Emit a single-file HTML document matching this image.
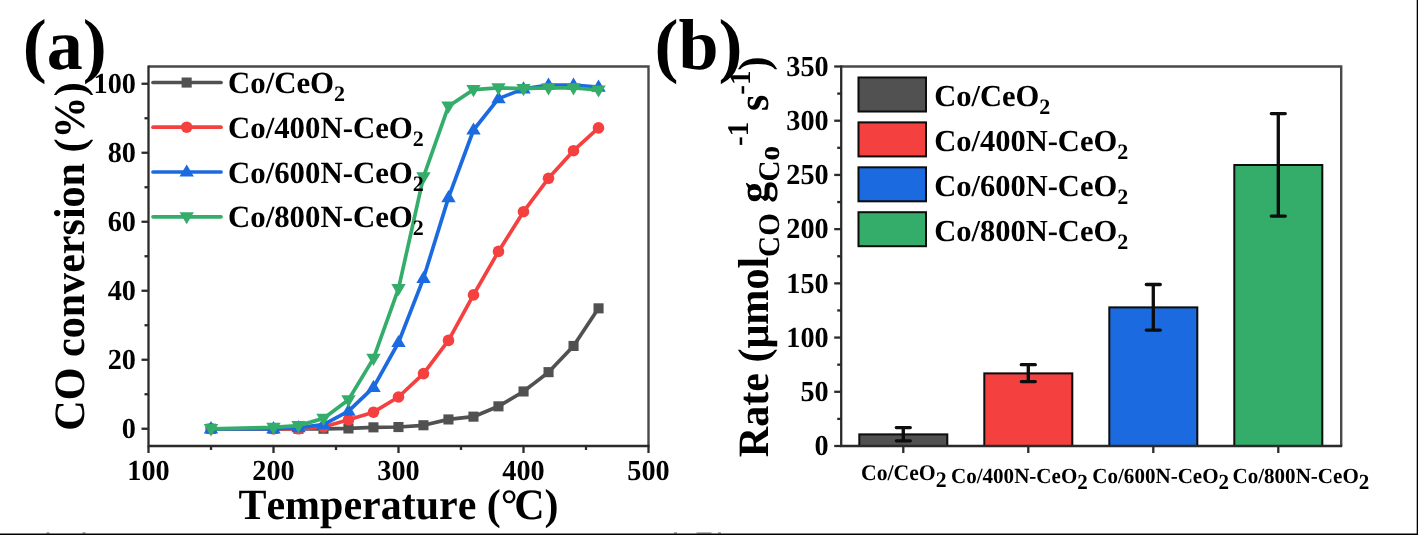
<!DOCTYPE html>
<html><head><meta charset="utf-8"><title>Figure</title>
<style>
html,body{margin:0;padding:0;background:#fff;}
body{width:1418px;height:535px;overflow:hidden;}
svg{display:block;}
text{font-family:"Liberation Serif",serif;font-weight:bold;fill:#000;font-kerning:none;font-variant-ligatures:none;text-rendering:geometricPrecision;}
</style></head><body>
<svg width="1418" height="535" viewBox="0 0 1418 535">
<defs><filter id="soft" x="0" y="0" width="100%" height="100%" filterUnits="userSpaceOnUse"><feGaussianBlur stdDeviation="0.65"/></filter></defs>
<rect x="0" y="0" width="1418" height="535" fill="#fff"/>
<g filter="url(#soft)">

<g id="pa">
<path d="M148.5,66.5H648.5V446.0" fill="none" stroke="#4a4a4a" stroke-width="2.4" stroke-linejoin="miter"/>
<path d="M148.5,65.5V446.0H649.5" fill="none" stroke="#2b2b2b" stroke-width="2.3" stroke-linejoin="miter"/>
<line x1="148.5" y1="446.0" x2="148.5" y2="453.0" stroke="#2b2b2b" stroke-width="2.3"/>
<line x1="211.0" y1="446.0" x2="211.0" y2="450.0" stroke="#2b2b2b" stroke-width="2.3"/>
<line x1="273.5" y1="446.0" x2="273.5" y2="453.0" stroke="#2b2b2b" stroke-width="2.3"/>
<line x1="336.0" y1="446.0" x2="336.0" y2="450.0" stroke="#2b2b2b" stroke-width="2.3"/>
<line x1="398.5" y1="446.0" x2="398.5" y2="453.0" stroke="#2b2b2b" stroke-width="2.3"/>
<line x1="461.0" y1="446.0" x2="461.0" y2="450.0" stroke="#2b2b2b" stroke-width="2.3"/>
<line x1="523.5" y1="446.0" x2="523.5" y2="453.0" stroke="#2b2b2b" stroke-width="2.3"/>
<line x1="586.0" y1="446.0" x2="586.0" y2="450.0" stroke="#2b2b2b" stroke-width="2.3"/>
<line x1="648.5" y1="446.0" x2="648.5" y2="453.0" stroke="#2b2b2b" stroke-width="2.3"/>
<line x1="148.5" y1="428.75" x2="141.5" y2="428.75" stroke="#2b2b2b" stroke-width="2.3"/>
<line x1="148.5" y1="394.25" x2="144.5" y2="394.25" stroke="#2b2b2b" stroke-width="2.3"/>
<line x1="148.5" y1="359.75" x2="141.5" y2="359.75" stroke="#2b2b2b" stroke-width="2.3"/>
<line x1="148.5" y1="325.25" x2="144.5" y2="325.25" stroke="#2b2b2b" stroke-width="2.3"/>
<line x1="148.5" y1="290.75" x2="141.5" y2="290.75" stroke="#2b2b2b" stroke-width="2.3"/>
<line x1="148.5" y1="256.25" x2="144.5" y2="256.25" stroke="#2b2b2b" stroke-width="2.3"/>
<line x1="148.5" y1="221.75" x2="141.5" y2="221.75" stroke="#2b2b2b" stroke-width="2.3"/>
<line x1="148.5" y1="187.25" x2="144.5" y2="187.25" stroke="#2b2b2b" stroke-width="2.3"/>
<line x1="148.5" y1="152.75" x2="141.5" y2="152.75" stroke="#2b2b2b" stroke-width="2.3"/>
<line x1="148.5" y1="118.25" x2="144.5" y2="118.25" stroke="#2b2b2b" stroke-width="2.3"/>
<line x1="148.5" y1="83.75" x2="141.5" y2="83.75" stroke="#2b2b2b" stroke-width="2.3"/>
<text transform="translate(148.50,480.00) scale(0.975,1)" font-size="29" text-anchor="middle">100</text>
<text transform="translate(273.50,480.00) scale(0.975,1)" font-size="29" text-anchor="middle">200</text>
<text transform="translate(398.50,480.00) scale(0.975,1)" font-size="29" text-anchor="middle">300</text>
<text transform="translate(523.50,480.00) scale(0.975,1)" font-size="29" text-anchor="middle">400</text>
<text transform="translate(648.50,480.00) scale(0.975,1)" font-size="29" text-anchor="middle">500</text>
<text transform="translate(136.00,438.05) scale(0.975,1)" font-size="29" text-anchor="end">0</text>
<text transform="translate(136.00,369.05) scale(0.975,1)" font-size="29" text-anchor="end">20</text>
<text transform="translate(136.00,300.05) scale(0.975,1)" font-size="29" text-anchor="end">40</text>
<text transform="translate(136.00,231.05) scale(0.975,1)" font-size="29" text-anchor="end">60</text>
<text transform="translate(136.00,162.05) scale(0.975,1)" font-size="29" text-anchor="end">80</text>
<text transform="translate(136.00,93.05) scale(0.975,1)" font-size="29" text-anchor="end">100</text>
<polyline points="211.0,428.8 273.5,428.8 298.5,428.8 323.5,428.8 348.5,428.4 373.5,427.4 398.5,427.0 423.5,425.3 448.5,419.4 473.5,416.7 498.5,406.3 523.5,391.5 548.5,372.2 573.5,345.9 598.5,308.3" fill="none" stroke="#515151" stroke-width="3.7" stroke-linejoin="round" stroke-linecap="round"/>
<rect x="205.9" y="423.7" width="10.1" height="10.1" fill="#515151"/>
<rect x="268.4" y="423.7" width="10.1" height="10.1" fill="#515151"/>
<rect x="293.4" y="423.7" width="10.1" height="10.1" fill="#515151"/>
<rect x="318.4" y="423.7" width="10.1" height="10.1" fill="#515151"/>
<rect x="343.4" y="423.4" width="10.1" height="10.1" fill="#515151"/>
<rect x="368.4" y="422.3" width="10.1" height="10.1" fill="#515151"/>
<rect x="393.4" y="422.0" width="10.1" height="10.1" fill="#515151"/>
<rect x="418.4" y="420.2" width="10.1" height="10.1" fill="#515151"/>
<rect x="443.4" y="414.4" width="10.1" height="10.1" fill="#515151"/>
<rect x="468.4" y="411.6" width="10.1" height="10.1" fill="#515151"/>
<rect x="493.4" y="401.3" width="10.1" height="10.1" fill="#515151"/>
<rect x="518.5" y="386.4" width="10.1" height="10.1" fill="#515151"/>
<rect x="543.5" y="367.1" width="10.1" height="10.1" fill="#515151"/>
<rect x="568.5" y="340.9" width="10.1" height="10.1" fill="#515151"/>
<rect x="593.5" y="303.3" width="10.1" height="10.1" fill="#515151"/>
<polyline points="211.0,428.8 273.5,428.8 298.5,428.8 323.5,427.0 348.5,419.8 373.5,412.2 398.5,397.0 423.5,373.6 448.5,340.4 473.5,294.9 498.5,251.4 523.5,211.7 548.5,178.3 573.5,150.7 598.5,127.9" fill="none" stroke="#F54141" stroke-width="3.7" stroke-linejoin="round" stroke-linecap="round"/>
<circle cx="211.0" cy="428.8" r="5.8" fill="#F54141"/>
<circle cx="273.5" cy="428.8" r="5.8" fill="#F54141"/>
<circle cx="298.5" cy="428.8" r="5.8" fill="#F54141"/>
<circle cx="323.5" cy="427.0" r="5.8" fill="#F54141"/>
<circle cx="348.5" cy="419.8" r="5.8" fill="#F54141"/>
<circle cx="373.5" cy="412.2" r="5.8" fill="#F54141"/>
<circle cx="398.5" cy="397.0" r="5.8" fill="#F54141"/>
<circle cx="423.5" cy="373.6" r="5.8" fill="#F54141"/>
<circle cx="448.5" cy="340.4" r="5.8" fill="#F54141"/>
<circle cx="473.5" cy="294.9" r="5.8" fill="#F54141"/>
<circle cx="498.5" cy="251.4" r="5.8" fill="#F54141"/>
<circle cx="523.5" cy="211.7" r="5.8" fill="#F54141"/>
<circle cx="548.5" cy="178.3" r="5.8" fill="#F54141"/>
<circle cx="573.5" cy="150.7" r="5.8" fill="#F54141"/>
<circle cx="598.5" cy="127.9" r="5.8" fill="#F54141"/>
<polyline points="211.0,428.8 273.5,428.8 298.5,427.7 323.5,424.6 348.5,411.2 373.5,387.4 398.5,342.5 423.5,278.3 448.5,197.6 473.5,130.0 498.5,98.6 523.5,88.9 548.5,85.1 573.5,85.1 598.5,87.2" fill="none" stroke="#1A6BE0" stroke-width="3.7" stroke-linejoin="round" stroke-linecap="round"/>
<polygon points="211.0,421.1 218.2,433.4 203.8,433.4" fill="#1A6BE0"/>
<polygon points="273.5,421.1 280.7,433.4 266.3,433.4" fill="#1A6BE0"/>
<polygon points="298.5,420.1 305.7,432.3 291.3,432.3" fill="#1A6BE0"/>
<polygon points="323.5,417.0 330.7,429.2 316.3,429.2" fill="#1A6BE0"/>
<polygon points="348.5,403.6 355.7,415.8 341.3,415.8" fill="#1A6BE0"/>
<polygon points="373.5,379.8 380.7,392.0 366.3,392.0" fill="#1A6BE0"/>
<polygon points="398.5,334.9 405.7,347.1 391.3,347.1" fill="#1A6BE0"/>
<polygon points="423.5,270.7 430.7,282.9 416.3,282.9" fill="#1A6BE0"/>
<polygon points="448.5,190.0 455.7,202.2 441.3,202.2" fill="#1A6BE0"/>
<polygon points="473.5,122.4 480.7,134.6 466.3,134.6" fill="#1A6BE0"/>
<polygon points="498.5,91.0 505.7,103.2 491.3,103.2" fill="#1A6BE0"/>
<polygon points="523.5,81.3 530.7,93.5 516.3,93.5" fill="#1A6BE0"/>
<polygon points="548.5,77.5 555.7,89.7 541.3,89.7" fill="#1A6BE0"/>
<polygon points="573.5,77.5 580.7,89.7 566.3,89.7" fill="#1A6BE0"/>
<polygon points="598.5,79.6 605.7,91.8 591.3,91.8" fill="#1A6BE0"/>
<polyline points="211.0,428.8 273.5,427.4 298.5,425.6 323.5,418.4 348.5,399.8 373.5,358.4 398.5,288.7 423.5,176.9 448.5,106.2 473.5,89.6 498.5,87.9 523.5,88.6 548.5,87.9 573.5,87.9 598.5,90.0" fill="none" stroke="#34AD6B" stroke-width="3.7" stroke-linejoin="round" stroke-linecap="round"/>
<polygon points="211.0,436.4 218.2,424.1 203.8,424.1" fill="#34AD6B"/>
<polygon points="273.5,435.0 280.7,422.8 266.3,422.8" fill="#34AD6B"/>
<polygon points="298.5,433.2 305.7,421.0 291.3,421.0" fill="#34AD6B"/>
<polygon points="323.5,426.0 330.7,413.8 316.3,413.8" fill="#34AD6B"/>
<polygon points="348.5,407.4 355.7,395.2 341.3,395.2" fill="#34AD6B"/>
<polygon points="373.5,366.0 380.7,353.8 366.3,353.8" fill="#34AD6B"/>
<polygon points="398.5,296.3 405.7,284.1 391.3,284.1" fill="#34AD6B"/>
<polygon points="423.5,184.5 430.7,172.3 416.3,172.3" fill="#34AD6B"/>
<polygon points="448.5,113.8 455.7,101.6 441.3,101.6" fill="#34AD6B"/>
<polygon points="473.5,97.2 480.7,85.0 466.3,85.0" fill="#34AD6B"/>
<polygon points="498.5,95.5 505.7,83.3 491.3,83.3" fill="#34AD6B"/>
<polygon points="523.5,96.2 530.7,84.0 516.3,84.0" fill="#34AD6B"/>
<polygon points="548.5,95.5 555.7,83.3 541.3,83.3" fill="#34AD6B"/>
<polygon points="573.5,95.5 580.7,83.3 566.3,83.3" fill="#34AD6B"/>
<polygon points="598.5,97.6 605.7,85.4 591.3,85.4" fill="#34AD6B"/>
<line x1="153" y1="82.5" x2="221" y2="82.5" stroke="#515151" stroke-width="3.7" stroke-linecap="round"/>
<rect x="181.6" y="77.5" width="10.1" height="10.1" fill="#515151"/>
<text x="228" y="93.2" font-size="30.8">Co/CeO<tspan font-size="22" dy="8">2</tspan></text>
<line x1="153" y1="127.2" x2="221" y2="127.2" stroke="#F54141" stroke-width="3.7" stroke-linecap="round"/>
<circle cx="186.7" cy="127.2" r="5.8" fill="#F54141"/>
<text x="228" y="137.9" font-size="30.8">Co/400N-CeO<tspan font-size="22" dy="8">2</tspan></text>
<line x1="153" y1="172.0" x2="221" y2="172.0" stroke="#1A6BE0" stroke-width="3.7" stroke-linecap="round"/>
<polygon points="186.7,164.4 193.9,176.6 179.5,176.6" fill="#1A6BE0"/>
<text x="228" y="182.7" font-size="30.8">Co/600N-CeO<tspan font-size="22" dy="8">2</tspan></text>
<line x1="153" y1="216.8" x2="221" y2="216.8" stroke="#34AD6B" stroke-width="3.7" stroke-linecap="round"/>
<polygon points="186.7,224.3 193.9,212.2 179.5,212.2" fill="#34AD6B"/>
<text x="228" y="227.4" font-size="30.8">Co/800N-CeO<tspan font-size="22" dy="8">2</tspan></text>
<text transform="translate(398.5,518.5) scale(0.970,1)" font-size="43.3" text-anchor="middle">Temperature (°<tspan dx="-3.5">C</tspan>)</text>
<text transform="translate(83.8,256.5) rotate(-90) scale(0.972,1)" font-size="43.3" text-anchor="middle">CO conversion (%)</text>
<text x="22.8" y="68.8" font-size="72">(a)</text>
</g>
<g id="pb">
<rect x="859.3" y="434.4" width="88" height="11.6" fill="#515151" stroke="#0a0a0a" stroke-width="2"/>
<rect x="984.3" y="373.4" width="88" height="72.6" fill="#F54141" stroke="#0a0a0a" stroke-width="2"/>
<rect x="1109.3" y="307.4" width="88" height="138.6" fill="#1A6BE0" stroke="#0a0a0a" stroke-width="2"/>
<rect x="1234.3" y="165.0" width="88" height="281.0" fill="#34AD6B" stroke="#0a0a0a" stroke-width="2"/>
<path d="M903.3,427.6V440.8M896.3,427.6H910.3M896.3,440.8H910.3" stroke="#0a0a0a" stroke-width="3.3" stroke-linecap="round" fill="none"/>
<path d="M1028.3,364.7V381.6M1021.3,364.7H1035.3M1021.3,381.6H1035.3" stroke="#0a0a0a" stroke-width="3.3" stroke-linecap="round" fill="none"/>
<path d="M1153.3,284.5V330.1M1146.3,284.5H1160.3M1146.3,330.1H1160.3" stroke="#0a0a0a" stroke-width="3.3" stroke-linecap="round" fill="none"/>
<path d="M1278.3,113.6V216.1M1271.3,113.6H1285.3M1271.3,216.1H1285.3" stroke="#0a0a0a" stroke-width="3.3" stroke-linecap="round" fill="none"/>
<path d="M841.2,66.5H1341.2V446.0" fill="none" stroke="#4a4a4a" stroke-width="2.4" stroke-linejoin="miter"/>
<path d="M841.2,65.5V446.0H1342.2" fill="none" stroke="#2b2b2b" stroke-width="2.3" stroke-linejoin="miter"/>
<line x1="903.3" y1="446.0" x2="903.3" y2="453.0" stroke="#2b2b2b" stroke-width="2.3"/>
<line x1="1028.3" y1="446.0" x2="1028.3" y2="453.0" stroke="#2b2b2b" stroke-width="2.3"/>
<line x1="1153.3" y1="446.0" x2="1153.3" y2="453.0" stroke="#2b2b2b" stroke-width="2.3"/>
<line x1="1278.3" y1="446.0" x2="1278.3" y2="453.0" stroke="#2b2b2b" stroke-width="2.3"/>
<line x1="841.2" y1="446.00" x2="834.2" y2="446.00" stroke="#2b2b2b" stroke-width="2.3"/>
<line x1="841.2" y1="418.89" x2="837.2" y2="418.89" stroke="#2b2b2b" stroke-width="2.3"/>
<line x1="841.2" y1="391.79" x2="834.2" y2="391.79" stroke="#2b2b2b" stroke-width="2.3"/>
<line x1="841.2" y1="364.68" x2="837.2" y2="364.68" stroke="#2b2b2b" stroke-width="2.3"/>
<line x1="841.2" y1="337.57" x2="834.2" y2="337.57" stroke="#2b2b2b" stroke-width="2.3"/>
<line x1="841.2" y1="310.46" x2="837.2" y2="310.46" stroke="#2b2b2b" stroke-width="2.3"/>
<line x1="841.2" y1="283.36" x2="834.2" y2="283.36" stroke="#2b2b2b" stroke-width="2.3"/>
<line x1="841.2" y1="256.25" x2="837.2" y2="256.25" stroke="#2b2b2b" stroke-width="2.3"/>
<line x1="841.2" y1="229.14" x2="834.2" y2="229.14" stroke="#2b2b2b" stroke-width="2.3"/>
<line x1="841.2" y1="202.04" x2="837.2" y2="202.04" stroke="#2b2b2b" stroke-width="2.3"/>
<line x1="841.2" y1="174.93" x2="834.2" y2="174.93" stroke="#2b2b2b" stroke-width="2.3"/>
<line x1="841.2" y1="147.82" x2="837.2" y2="147.82" stroke="#2b2b2b" stroke-width="2.3"/>
<line x1="841.2" y1="120.71" x2="834.2" y2="120.71" stroke="#2b2b2b" stroke-width="2.3"/>
<line x1="841.2" y1="93.61" x2="837.2" y2="93.61" stroke="#2b2b2b" stroke-width="2.3"/>
<line x1="841.2" y1="66.50" x2="834.2" y2="66.50" stroke="#2b2b2b" stroke-width="2.3"/>
<text transform="translate(828.70,455.30) scale(0.975,1)" font-size="29" text-anchor="end">0</text>
<text transform="translate(828.70,401.09) scale(0.975,1)" font-size="29" text-anchor="end">50</text>
<text transform="translate(828.70,346.87) scale(0.975,1)" font-size="29" text-anchor="end">100</text>
<text transform="translate(828.70,292.66) scale(0.975,1)" font-size="29" text-anchor="end">150</text>
<text transform="translate(828.70,238.44) scale(0.975,1)" font-size="29" text-anchor="end">200</text>
<text transform="translate(828.70,184.23) scale(0.975,1)" font-size="29" text-anchor="end">250</text>
<text transform="translate(828.70,130.01) scale(0.975,1)" font-size="29" text-anchor="end">300</text>
<text transform="translate(828.70,75.80) scale(0.975,1)" font-size="29" text-anchor="end">350</text>
<text transform="translate(903.75,480.4) scale(0.975,1)" font-size="22.25" text-anchor="middle">Co/CeO<tspan dy="6.5">2</tspan></text>
<text transform="translate(1019.4,482.8) scale(0.975,1)" font-size="21.60" text-anchor="middle">Co/400N-CeO<tspan dy="6.0">2</tspan></text>
<text transform="translate(1160.7,482.8) scale(0.975,1)" font-size="21.60" text-anchor="middle">Co/600N-CeO<tspan dy="6.0">2</tspan></text>
<text transform="translate(1300.9,482.8) scale(0.975,1)" font-size="21.60" text-anchor="middle">Co/800N-CeO<tspan dy="6.0">2</tspan></text>
<rect x="858.5" y="77.5" width="67.5" height="34" fill="#515151" stroke="#0a0a0a" stroke-width="2"/>
<text x="934.2" y="105.8" font-size="30.5">Co/CeO<tspan font-size="22" dy="8">2</tspan></text>
<rect x="858.5" y="122.4" width="67.5" height="34" fill="#F54141" stroke="#0a0a0a" stroke-width="2"/>
<text x="934.2" y="150.7" font-size="30.5">Co/400N-CeO<tspan font-size="22" dy="8">2</tspan></text>
<rect x="858.5" y="167.3" width="67.5" height="34" fill="#1A6BE0" stroke="#0a0a0a" stroke-width="2"/>
<text x="934.2" y="195.6" font-size="30.5">Co/600N-CeO<tspan font-size="22" dy="8">2</tspan></text>
<rect x="858.5" y="212.2" width="67.5" height="34" fill="#34AD6B" stroke="#0a0a0a" stroke-width="2"/>
<text x="934.2" y="240.5" font-size="30.5">Co/800N-CeO<tspan font-size="22" dy="8">2</tspan></text>
<text transform="translate(768,256.8) rotate(-90) scale(0.972,1)" font-size="43.3" text-anchor="middle">Rate (μmol<tspan font-size="30" dy="10.5">CO</tspan><tspan dy="-10.5"> g</tspan><tspan font-size="30" dy="11">Co</tspan><tspan font-size="30" dy="-31">-1</tspan><tspan dy="20"> s</tspan><tspan font-size="30" dy="-18">-1</tspan><tspan dy="18">)</tspan></text>
<text x="654.6" y="68.8" font-size="72">(b)</text>
</g>
<rect x="46.5" y="532.4" width="3" height="1.2" fill="#777"/>
<rect x="82.5" y="532.4" width="3" height="1.2" fill="#777"/>
<rect x="674" y="532.4" width="3" height="1.2" fill="#777"/>
<rect x="696.5" y="532.4" width="15" height="1.2" fill="#888"/>
<rect x="718" y="532.4" width="3" height="1.2" fill="#777"/>
</g>
<rect x="0" y="533.5" width="1418" height="1.5" fill="#000"/>
<rect x="1416.7" y="0" width="1.3" height="535" fill="#000"/>
</svg></body></html>
